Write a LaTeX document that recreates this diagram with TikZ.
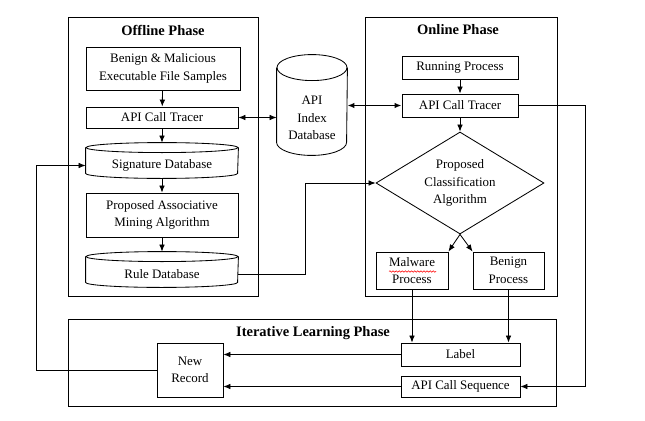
\documentclass[tikz,border=0pt]{standalone}
\usepackage{fontspec}
\setmainfont{Liberation Serif}
\usetikzlibrary{%
    arrows.meta,
    calc,
    decorations.pathmorphing,
    positioning,
    shapes.geometric
}

\newcommand\unitpx{0.025cm}
% cylinder outline round a plain node: node, x radius, y radius
\newcommand\dbshape[3]{%
    \draw ([yshift=#3*\unitpx]#1.north west) -- ([yshift=#3*\unitpx]#1.south west)
          arc[start angle=180, end angle=360, x radius=#2*\unitpx, y radius=#3*\unitpx]
          -- ([yshift=#3*\unitpx]#1.north east);
    \draw ([yshift=#3*\unitpx]#1.north) ellipse [x radius=#2*\unitpx, y radius=#3*\unitpx];
}

\tikzset{
    txt/.style={font=\fontsize{9.2}{12.5}\selectfont, align=center},
    box/.style={txt, draw, rectangle, inner sep=1pt},
    db/.style={txt, rectangle, inner sep=0pt},
    phase/.style={font=\fontsize{10.3}{12}\selectfont\bfseries},
    arr/.style={-{Latex[length=5pt,width=4pt]}},
    darr/.style={{Latex[length=5pt,width=4pt]}-{Latex[length=5pt,width=4pt]}},
}

\begin{document}
\begin{tikzpicture}[x=\unitpx, y=\unitpx, line width=.6pt]
    \useasboundingbox (0,0) rectangle (645,-421);

    % frames
    \draw (68,-17)  rectangle (258,-296);
    \draw (365,-17) rectangle (557,-296);
    \draw (68,-319) rectangle (556,-406);
    \node[phase] (offt) at (163,-30)  {Offline Phase};
    \node[phase] (ont)  at (458,-30)  {Online Phase};
    \node[phase] (itt)  at (313,-333) {Iterative Learning Phase};

    % offline phase
    \node[box, minimum width=154*\unitpx, minimum height=43*\unitpx]
        (samples) at (163,-68.5) {Benign \& Malicious\\Executable File Samples};
    \node[box, minimum width=152*\unitpx, minimum height=21*\unitpx]
        (otracer) at (162,-117.5) {API Call Tracer};
    \node[db, minimum width=152*\unitpx, minimum height=25*\unitpx]
        (sig) at (162,-165.5) {Signature Database};
    \node[box, minimum width=152*\unitpx, minimum height=44*\unitpx]
        (assoc) at (162,-215) {Proposed Associative\\Mining Algorithm};
    \node[db, minimum width=152*\unitpx, minimum height=25*\unitpx]
        (rule) at (162,-274.5) {Rule Database};
    \dbshape{sig}{76}{5}
    \dbshape{rule}{76}{5}

    % index database
    \node[db, minimum width=70*\unitpx, minimum height=74*\unitpx]
        (idx) at (312,-118) {API\\Index\\Database};
    \dbshape{idx}{35}{13}

    % online phase
    \node[box, minimum width=116*\unitpx, minimum height=23*\unitpx]
        (running) at (460,-67.5) {Running Process};
    \node[box, minimum width=116*\unitpx, minimum height=23*\unitpx]
        (ntracer) at (460,-105.5) {API Call Tracer};
    \node[txt, draw, diamond, aspect=1.65, inner sep=0pt,
          minimum width=168*\unitpx, minimum height=102*\unitpx]
        (classify) at (460,-183) {Proposed\\Classification\\Algorithm};
    \node[box, minimum width=72*\unitpx, minimum height=37*\unitpx]
        (malware) at (412,-270.5) {Malware\\Process};
    \node[box, minimum width=71*\unitpx, minimum height=37*\unitpx]
        (benign) at (508.5,-270.5) {Benign\\Process};
    \draw[red, line width=.4pt, decorate,
          decoration={snake, amplitude=.5pt, segment length=2.2pt}]
        ([xshift=-23*\unitpx, yshift=-1*\unitpx]malware.center)
        -- ([xshift=24*\unitpx, yshift=-1*\unitpx]malware.center);

    % iterative learning phase
    \node[box, minimum width=66*\unitpx, minimum height=54*\unitpx]
        (newrec) at (190,-370) {New\\Record};
    \node[box, minimum width=119*\unitpx, minimum height=23*\unitpx]
        (label) at (460.5,-354.5) {Label};
    \node[box, minimum width=119*\unitpx, minimum height=21*\unitpx]
        (apiseq) at (460.5,-386.5) {API Call Sequence};

    % connectors
    \draw[arr] (samples) -- (otracer);
    \draw[arr] (otracer) -- ([yshift=10*\unitpx]sig.north);
    \draw[arr] (sig) -- (assoc);
    \draw[arr] (assoc) -- ([yshift=10*\unitpx]rule.north);
    \draw[darr] (otracer.east) -- (otracer.east -| idx.west);
    \draw[darr, line width=1.3pt] (ntracer.west) -- (ntracer.west -| idx.east);
    \draw[arr] (running) -- (ntracer);
    \draw[arr] (ntracer) -- (classify);
    \draw[arr] (classify.south) -- (malware.north east);
    \draw[arr] (classify.south) -- (benign.north west);
    \draw[arr] (rule.east) -- ++(67,0) |- (classify.west);
    \draw[arr] (malware.south) -- (malware.south |- label.north);
    \draw[arr] (benign.south) -- (benign.south |- label.north);
    \draw[arr] (label.west) -- (label.west -| newrec.east);
    \draw[arr] (apiseq.west) -- (apiseq.west -| newrec.east);
    \draw[arr] (newrec.west) -- ++(-120,0) |- (sig.west);
    \draw[arr] (ntracer.east) -- ++(67,0) |- (apiseq.east);
\end{tikzpicture}
\end{document}
